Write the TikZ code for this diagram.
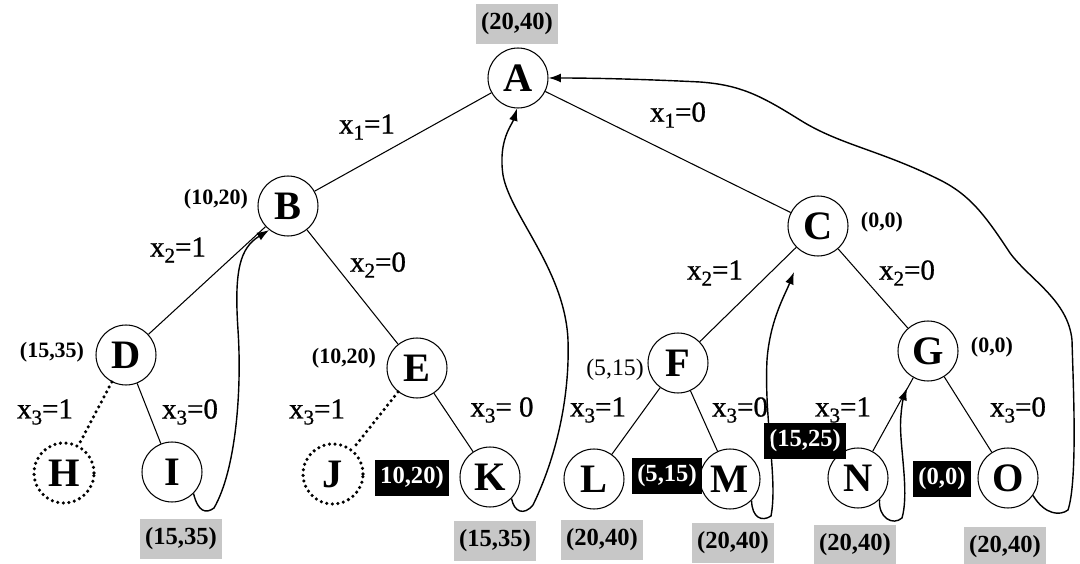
\documentclass[tikz,border=0pt]{standalone}
\usepackage{fontspec}
\setmainfont{Liberation Serif}
\newfontfamily\labfont[FakeBold=0.9]{Liberation Serif}
\usetikzlibrary{arrows.meta}
\newcommand\sbx[1]{\raisebox{-0.45ex}{\fontsize{12}{12}\selectfont #1}}
\tikzset{
 nd/.style={circle, draw, line width=0.6pt, minimum size=1.2cm, inner sep=0pt, font=\bfseries\fontsize{23}{23}\selectfont},
 dnd/.style={nd, line width=2pt, dash pattern=on 0pt off 3.2pt, line cap=round},
 lab/.style={font=\labfont\fontsize{16.5}{16.5}\selectfont, inner sep=1pt},
 val/.style={font=\bfseries\fontsize{12.5}{12.5}\selectfont, inner sep=1pt},
 gbox/.style={fill=black!22, font=\bfseries\fontsize{14}{14}\selectfont, inner xsep=3pt, inner ysep=5pt},
 bbox/.style={fill=black, text=white, font=\bfseries\fontsize{14}{14}\selectfont, inner xsep=3pt, inner ysep=4pt},
 edg/.style={line width=0.6pt},
 dedg/.style={line width=2pt, dash pattern=on 0pt off 3.2pt, line cap=round},
 back/.style={-{Latex[length=7pt,width=5pt]}, line width=0.8pt},
}
\begin{document}
\begin{tikzpicture}[x=0.02cm,y=-0.02cm]
\useasboundingbox (0,0) rectangle (1080,564);
% nodes
\node[nd] (A) at (518,78) {A};
\node[nd] (B) at (288,206) {B};
\node[nd] (C) at (818,226) {C};
\node[nd] (D) at (126,355) {D};
\node[nd] (E) at (417,368) {E};
\node[nd] (F) at (678,363) {F};
\node[nd] (G) at (928,351) {G};
\node[dnd] (H) at (64,473) {H};
\node[nd] (I) at (172,472) {I};
\node[dnd] (J) at (333,474) {J};
\node[nd] (K) at (490,477) {K};
\node[nd] (L) at (594,479) {L};
\node[nd] (M) at (730,479) {M};
\node[nd] (N) at (858,478) {N};
\node[nd] (O) at (1008,478) {O};
% tree edges
\draw[edg] (A) -- (B);
\draw[edg] (A) -- (C);
\draw[edg] (B) -- (D);
\draw[edg] (B) -- (E);
\draw[edg] (C) -- (F);
\draw[edg] (C) -- (G);
\draw[dedg] (D) -- (H);
\draw[edg] (D) -- (I);
\draw[dedg] (E) -- (J);
\draw[edg] (E) -- (K);
\draw[edg] (F) -- (L);
\draw[edg] (F) -- (M);
\draw[edg] (G) -- (N);
\draw[edg] (G) -- (O);
% edge labels
\node[lab] (l1) at (367,127) {x\sbx{1}=1};
\node[lab] (l2) at (678,115) {x\sbx{1}=0};
\node[lab] (l3) at (178,250) {x\sbx{2}=1};
\node[lab] (l4) at (378,265) {x\sbx{2}=0};
\node[lab] (l5) at (715,273) {x\sbx{2}=1};
\node[lab] (l6) at (907,273) {x\sbx{2}=0};
\node[lab] (l7) at (45,412) {x\sbx{3}=1};
\node[lab] (l8) at (190,412) {x\sbx{3}=0};
\node[lab] (l9) at (317,412) {x\sbx{3}=1};
\node[lab] (l10) at (502,410) {x\sbx{3}= 0};
\node[lab] (l11) at (598,410) {x\sbx{3}=1};
\node[lab] (l12) at (740,410) {x\sbx{3}=0};
\node[lab] (l13) at (843,410) {x\sbx{3}=1};
\node[lab] (l14) at (1018,410) {x\sbx{3}=0};
% value labels
\node[gbox] (vA) at (517,24) {(20,40)};
\node[val] (vB) at (216,199) {(10,20)};
\node[val] (vC) at (882,222) {(0,0)};
\node[val] (vD) at (52,352) {(15,35)};
\node[val] (vE) at (344,358) {(10,20)};
\node[val, font=\fontsize{13.5}{13.5}\selectfont] (vF) at (615,370) {(5,15)};
\node[val] (vG) at (992,347) {(0,0)};
\node[bbox] (bK) at (412,478) {10,20)};
\node[bbox] (bM) at (667,476) {(5,15)};
\node[bbox] (bN) at (805,441) {(15,25)};
\node[bbox] (bO) at (942,479) {(0,0)};
\node[gbox] (gI) at (181,539) {(15,35)};
\node[gbox] (gK) at (495,541) {(15,35)};
\node[gbox] (gL) at (602,540) {(20,40)};
\node[gbox] (gM) at (733,543) {(20,40)};
\node[gbox] (gN) at (855,545) {(20,40)};
\node[gbox] (gO) at (1005,547) {(20,40)};
% backtracking curves
\coordinate (cM) at (794,272);
\coordinate (cN) at (907,388);
\draw[back] (I.-45) .. controls (198,512) and (206,514) .. (214,508)
  .. controls (236,470) and (242,390) .. (238,330)
  .. controls (234,270) and (240,248) .. (B.-128);
\draw[back] (K.-45) .. controls (514,512) and (524,516) .. (533,505)
  .. controls (555,460) and (570,400) .. (568,340)
  .. controls (565,270) and (510,215) .. (503,175)
  .. controls (498,140) and (512,125) .. (A.-92);
\draw[back] (M.-45) .. controls (752,518) and (762,522) .. (771,516)
  .. controls (778,480) and (764,420) .. (767,360)
  .. controls (770,320) and (785,295) .. (cM);
\draw[back] (N.-45) .. controls (878,518) and (893,526) .. (902,518)
  .. controls (910,490) and (898,440) .. (901,415)
  .. controls (902,402) and (904,396) .. (cN);
\draw[back] (O.-35) .. controls (1045,515) and (1060,516) .. (1068,510)
  .. controls (1078,480) and (1073,380) .. (1072,340)
  .. controls (1068,300) and (1030,280) .. (1010,253)
  .. controls (985,215) and (970,195) .. (940,180)
  .. controls (880,150) and (840,145) .. (800,120)
  .. controls (760,95) and (740,85) .. (700,82)
  .. controls (640,79) and (590,78) .. (A.east);
\end{tikzpicture}
\end{document}
